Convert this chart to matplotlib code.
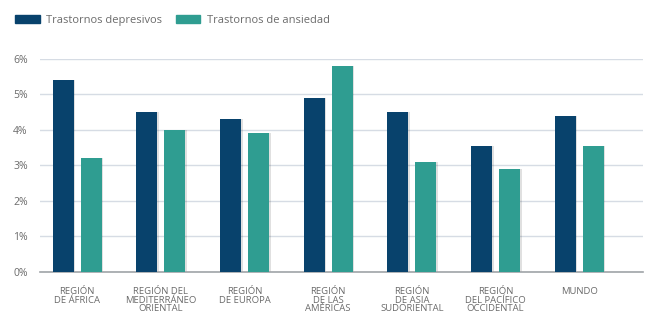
import numpy as np
import matplotlib
matplotlib.use("Agg")
from matplotlib import pyplot as plt
from matplotlib.patches import Rectangle

plt.rcParams['font.family'] = ['Open Sans', 'DejaVu Sans']

# data
regions = ["REGIÓN\nDE ÁFRICA", "REGIÓN DEL\nMEDITERRÁNEO\nORIENTAL", "REGIÓN\nDE EUROPA",
           "REGIÓN\nDE LAS\nAMÉRICAS", "REGIÓN\nDE ASIA\nSUDORIENTAL",
           "REGIÓN\nDEL PACÍFICO\nOCCIDENTAL", "MUNDO"]
depresivos = [5.4, 4.5, 4.3, 4.9, 4.5, 3.55, 4.4]
ansiedad = [3.2, 4.0, 3.9, 5.8, 3.1, 2.9, 3.55]
yticks = [0, 1, 2, 3, 4, 5, 6]
series_names = ["Trastornos depresivos", "Trastornos de ansiedad"]

dark = "#08426c"
teal = "#2f9d91"
text_col = "#6b6b6b"

fig = plt.figure(figsize=(6.5, 3.2), dpi=100)
ax = fig.add_axes([0.062, 0.15, 0.927, 0.666])

x = np.arange(len(regions))
w = 0.25
off = 0.167
# soft shadow behind bars
ax.bar(x - off + 0.02, depresivos, w, color="#000000", alpha=0.12, zorder=2)
ax.bar(x + off + 0.02, ansiedad, w, color="#000000", alpha=0.12, zorder=2)
ax.bar(x - off, depresivos, w, color=dark, zorder=3, label=series_names[0])
ax.bar(x + off, ansiedad, w, color=teal, zorder=3, label=series_names[1])

ax.set_xlim(-0.44, 6.76)
ax.set_ylim(0, 6)
ax.set_yticks(yticks)
ax.set_yticklabels([f"{t}%" for t in yticks], fontsize=7.5, color=text_col)
ax.yaxis.grid(True, color="#d6dce4", linewidth=1.0, zorder=0)
ax.tick_params(axis="y", length=0, pad=9)
ax.set_xticks(x)
ax.set_xticklabels(regions, fontsize=6.8, color=text_col, linespacing=0.9)
ax.tick_params(axis="x", length=0, pad=11)
for s in ["top", "right", "left"]:
    ax.spines[s].set_visible(False)
ax.spines["bottom"].set_color("#a0a4a8")
ax.spines["bottom"].set_linewidth(1.2)

# legend on top left
fig.legend(handles=[Rectangle((0, 0), 1, 1, color=dark), Rectangle((0, 0), 1, 1, color=teal)],
           labels=series_names, loc="upper left", bbox_to_anchor=(0.008, 0.985), ncol=2,
           frameon=False, fontsize=8, handlelength=2.2, handleheight=0.8,
           columnspacing=1.2, handletextpad=0.6, labelcolor=text_col)

fig.savefig("out.png", dpi=100)
